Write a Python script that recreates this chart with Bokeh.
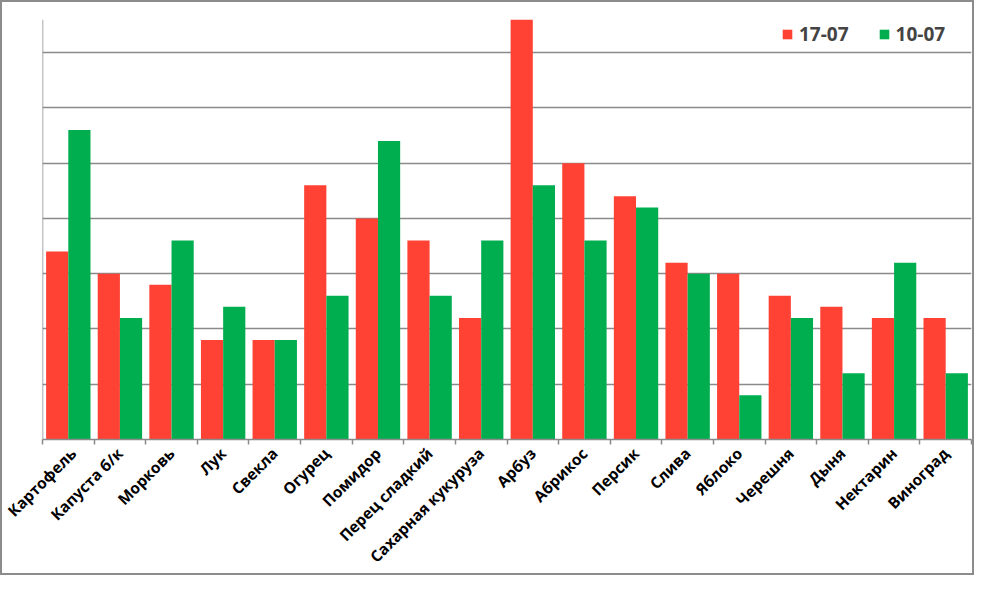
from bokeh.plotting import figure
from bokeh.models import ColumnDataSource, FixedTicker, Legend, LegendItem, Range1d, Span
from bokeh.transform import dodge
from bokeh.embed import file_html
from bokeh.resources import INLINE
from math import pi

categories = ["Картофель", "Капуста б/к", "Морковь", "Лук", "Свекла", "Огурец",
              "Помидор", "Перец сладкий", "Сахарная кукуруза", "Арбуз", "Абрикос",
              "Персик", "Слива", "Яблоко", "Черешня", "Дыня", "Нектарин", "Виноград"]
series_a_name = "17-07"
series_b_name = "10-07"
values_a = [3.4, 3.0, 2.8, 1.8, 1.8, 4.6, 4.0, 3.6, 2.2, 7.6, 5.0, 4.4, 3.2, 3.0, 2.6, 2.4, 2.2, 2.2]
values_b = [5.6, 2.2, 3.6, 2.4, 1.8, 2.6, 5.4, 2.6, 3.6, 4.6, 3.6, 4.2, 3.0, 0.8, 2.2, 1.2, 3.2, 1.2]
grid_ticks = [1, 2, 3, 4, 5, 6, 7]

n = len(categories)
centers = [i + 0.5 for i in range(n)]
src = ColumnDataSource(dict(x=centers, a=values_a, b=values_b, cat=categories))

RED = "#FF4233"
GREEN = "#00AE4F"
GRID = "#8A8A8A"

p = figure(width=974, height=575, output_backend="svg", toolbar_location=None,
           x_range=Range1d(0, n), y_range=Range1d(0, 7.6),
           min_border_left=40, min_border_right=5, min_border_top=17, min_border_bottom=100)
p.outline_line_color = None
p.background_fill_color = "white"
p.border_fill_color = "white"

bw = 0.43
ra = p.vbar(x=dodge("x", -bw / 2, range=p.x_range), top="a", width=bw, source=src,
            fill_color=RED, line_color=None)
rb = p.vbar(x=dodge("x", bw / 2, range=p.x_range), top="b", width=bw, source=src,
            fill_color=GREEN, line_color=None)

# y axis: line only (no labels)
p.yaxis.visible = False
p.ygrid.ticker = FixedTicker(ticks=grid_ticks)
p.ygrid.grid_line_color = GRID
p.ygrid.grid_line_width = 1.5
p.xgrid.grid_line_color = None
p.add_layout(Span(location=0, dimension="height", line_color=GRID, line_width=1.5))

# x axis: labels at centers, tick marks at category boundaries
p.xaxis.ticker = FixedTicker(ticks=centers, minor_ticks=list(range(n + 1)))
p.xaxis.major_label_overrides = {c: lab for c, lab in zip(centers, categories)}
p.xaxis.major_tick_line_color = None
p.xaxis.minor_tick_line_color = GRID
p.xaxis.minor_tick_line_width = 1.5
p.xaxis.minor_tick_out = 5
p.xaxis.minor_tick_in = 0
p.xaxis.axis_line_color = GRID
p.xaxis.axis_line_width = 1.5
p.xaxis.major_label_orientation = pi / 4
p.xaxis.major_label_text_font = "Open Sans"
p.xaxis.major_label_text_font_style = "bold"
p.xaxis.major_label_text_font_size = "15.5px"
p.xaxis.major_label_text_color = "#000000"
p.xaxis.major_label_standoff = 5

legend = Legend(items=[LegendItem(label=series_a_name, renderers=[ra]),
                       LegendItem(label=series_b_name, renderers=[rb])],
                location=(739, 392), orientation="horizontal")
legend.border_line_color = None
legend.background_fill_alpha = 0
legend.label_text_font = "Open Sans"
legend.label_text_font_style = "bold"
legend.label_text_font_size = "19px"
legend.glyph_width = 12
legend.glyph_height = 12
legend.spacing = 29
legend.label_standoff = 6
legend.padding = 0
legend.margin = 0
p.add_layout(legend)

p.styles = {"border": "2px solid #8C8C8C"}

open("out.html", "w").write(file_html(p, INLINE))
